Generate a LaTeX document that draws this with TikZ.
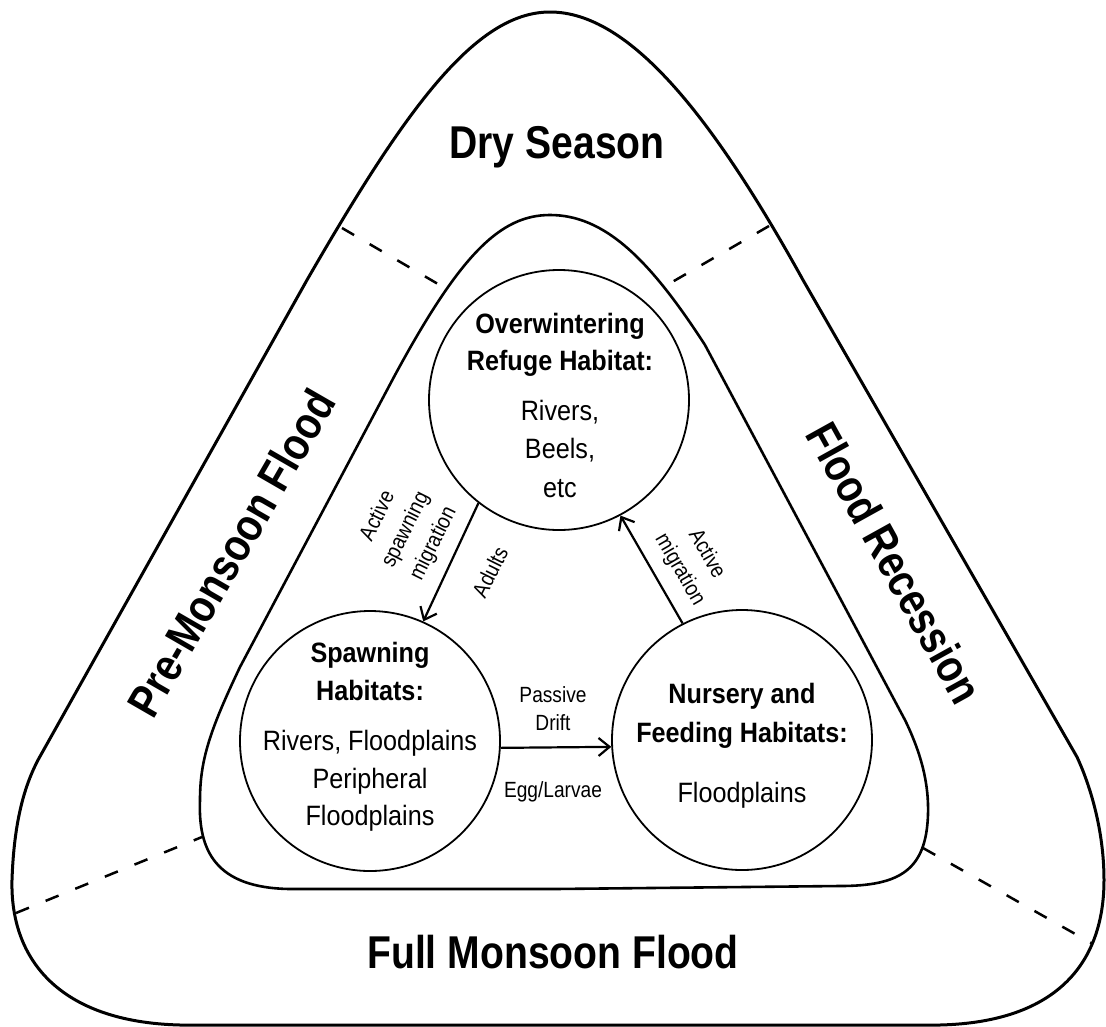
\documentclass[tikz,border=0pt]{standalone}
\usepackage{fontspec}
\setmainfont{Liberation Sans}
\newfontfamily\titlefont{Liberation Sans}[FakeStretch=0.85]
\newfontfamily\circfont{Liberation Sans}[FakeStretch=0.9]
\newfontfamily\arrfont{Liberation Sans}[FakeStretch=0.87]
\usetikzlibrary{arrows.meta}
\begin{document}
\begin{tikzpicture}[x=1pt,y=-1pt,
  region/.style={inner sep=0, font=\titlefont\bfseries\fontsize{46}{50}\selectfont},
  hab/.style={circle, draw, line width=1.8pt, minimum size=260pt, inner sep=0},
  cb/.style={anchor=base, inner sep=0, font=\circfont\bfseries\fontsize{28}{34}\selectfont},
  cr/.style={anchor=base, inner sep=0, font=\circfont\fontsize{28}{34}\selectfont},
  albl/.style={inner sep=0, align=center, font=\arrfont\fontsize{22}{31}\selectfont},
  flow/.style={line width=2.2pt, -{Straight Barb[length=11pt,width=18pt,line width=2.2pt]}},
  divider/.style={line width=2.5pt, dash pattern=on 14pt off 18pt},
  band/.style={line width=3pt, line join=round}
]
\fill[white] (0,0) rectangle (1106,1026);
\path[use as bounding box] (0,0) rectangle (1106,1026);

% outer rounded triangle
\draw[band] (555,1025) -- (180,1025) .. controls (60,1022) and (10,960) .. (12,880)
 .. controls (14,820) and (25,785) .. (38,760)
 -- (307,280)
 .. controls (405,110) and (475,12) .. (550,12)
 .. controls (628,12) and (710,112) .. (803,280)
 -- (1077,757)
 .. controls (1090,785) and (1104,830) .. (1104,880)
 .. controls (1104,960) and (1060,1022) .. (940,1025) -- cycle;

% inner rounded triangle
\draw[band, line width=2.6pt] (555,889) -- (290,889) .. controls (215,888) and (198,850) .. (200,800)
 .. controls (200,760) and (210,730) .. (240,667)
 -- (395,375)
 .. controls (460,255) and (500,215) .. (550,215)
 .. controls (605,215) and (650,260) .. (705,345)
 -- (905,720)
 .. controls (922,755) and (929,785) .. (928,815)
 .. controls (926,870) and (900,886) .. (840,886) -- cycle;

% dividers
\coordinate (dTLo) at (342,228);
\coordinate (dTLi) at (450,291);
\coordinate (dTRo) at (769,226);
\coordinate (dTRi) at (667,285);
\coordinate (dBLo) at (16,913);
\coordinate (dBLi) at (202,837);
\coordinate (dBRi) at (923,848);
\coordinate (dBRo) at (1093,944);
\draw[divider] (dTLo) -- (dTLi);
\draw[divider] (dTRo) -- (dTRi);
\draw[divider] (dBLo) -- (dBLi);
\draw[divider] (dBRi) -- (dBRo);

% region titles
\node[region, anchor=base] (dry) at (557,158) {Dry Season};
\node[region, anchor=base] (full) at (553,968) {Full Monsoon Flood};
\node[region, rotate=60] (pre) at (231,553) {Pre-Monsoon Flood};
\node[region, rotate=-61] (rec) at (895,563) {Flood Recession};

% habitats
\node[hab] (refuge) at (559,400) {};
\node[hab] (spawn) at (370,741) {};
\node[hab] (nursery) at (742,740) {};

\node[cb] (r1) at (560,333) {Overwintering};
\node[cb] (r2) at (560,370) {Refuge Habitat:};
\node[cr] (r3) at (560,420) {Rivers,};
\node[cr] (r4) at (560,458) {Beels,};
\node[cr] (r5) at (560,497) {etc};

\node[cb] (s1) at (370,662) {Spawning};
\node[cb] (s2) at (370,700) {Habitats:};
\node[cr] (s3) at (370,750) {Rivers, Floodplains};
\node[cr] (s4) at (370,788) {Peripheral};
\node[cr] (s5) at (370,825) {Floodplains};

\node[cb] (n1) at (742,703) {Nursery and};
\node[cb] (n2) at (742,742) {Feeding Habitats:};
\node[cr] (n3) at (742,802) {Floodplains};

% flows
\draw[flow] (refuge.232.9) -- (spawn.66.7);
\draw[flow] (spawn.-3.9) -- (nursery.183.5);
\draw[flow] (nursery.117.3) -- (refuge.-62.3);

% flow labels
\node[albl, rotate=63.6] (l1) at (406,530) {Active\\spawning\\migration};
\node[albl, rotate=63.6] (l2) at (490,572) {Adults};
\node[albl, rotate=-60] (l3) at (693,562) {Active\\migration};
\node[albl, anchor=base] (l4) at (553,702) {Passive};
\node[albl, anchor=base] (l5) at (553,730) {Drift};
\node[albl, anchor=base] (l6) at (553,797) {Egg/Larvae};
\end{tikzpicture}
\end{document}
